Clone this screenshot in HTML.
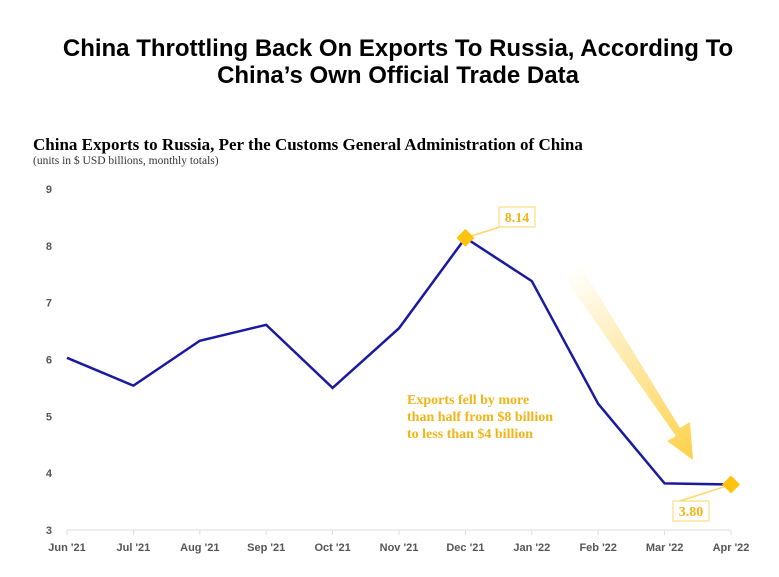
<!DOCTYPE html>
<html><head><meta charset="utf-8"><style>
body{margin:0;background:#fff;width:779px;height:577px;overflow:hidden}
svg{display:block}
</style></head><body>
<svg id="chart" width="779" height="577">
<defs>
<linearGradient id="ag" x1="570" y1="270" x2="693" y2="460" gradientUnits="userSpaceOnUse">
<stop offset="0" stop-color="#ffc20e" stop-opacity="0"/><stop offset="1" stop-color="#ffc20e" stop-opacity="0.75"/>
</linearGradient>
</defs>
<text x="398" y="56" text-anchor="middle" font-family="Liberation Sans, sans-serif" font-weight="bold" font-size="24">China Throttling Back On Exports To Russia, According To</text>
<text x="398" y="83" text-anchor="middle" font-family="Liberation Sans, sans-serif" font-weight="bold" font-size="24">China’s Own Official Trade Data</text>
<text x="33" y="150" font-family="Liberation Serif, serif" font-weight="bold" font-size="17">China Exports to Russia, Per the Customs General Administration of China</text>
<text x="33" y="164" font-family="Liberation Serif, serif" font-size="11.5" fill="#333">(units in $ USD billions, monthly totals)</text>
<g id="axes"></g>
<polygon points="563,276 580,265 680,428 690,422 693,460 667,441 676,436" fill="url(#ag)"/>
<text font-family="Liberation Serif, serif" font-weight="bold" font-size="14" fill="#f2b416"><tspan x="407" y="404">Exports fell by more</tspan><tspan x="407" y="421">than half from $8 billion</tspan><tspan x="407" y="438">to less than $4 billion</tspan></text>
<g id="plot"></g>
</svg>
<script>
const categories=["Jun '21","Jul '21","Aug '21","Sep '21","Oct '21","Nov '21","Dec '21","Jan '22","Feb '22","Mar '22","Apr '22"];
const values=[6.03,5.54,6.33,6.61,5.50,6.55,8.14,7.38,5.22,3.82,3.80];
const yTicks=[3,4,5,6,7,8,9];
const ns="http://www.w3.org/2000/svg";
const x0=67,x1=731,yTop=189,yBot=530,yMin=3,yMax=9;
const xs=i=>x0+(x1-x0)*i/(categories.length-1);
const ys=v=>yBot-(v-yMin)/(yMax-yMin)*(yBot-yTop);
function mk(t,a,p){const e=document.createElementNS(ns,t);for(const k in a)e.setAttribute(k,a[k]);p.appendChild(e);return e;}
const ax=document.getElementById('axes'),pl=document.getElementById('plot');
const base=mk('line',{x1:x0,x2:x1,y1:yBot,y2:yBot,stroke:'#ddd','stroke-width':1},ax);


yTicks.forEach(v=>{const t=mk('text',{x:52,y:ys(v)+4,'text-anchor':'end','font-family':'Liberation Sans, sans-serif','font-weight':'bold','font-size':11,fill:'#555'},ax);t.textContent=v;

});
categories.forEach((c,i)=>{const tk=mk('line',{x1:xs(i),x2:xs(i),y1:yBot,y2:yBot+5,stroke:'#ddd'},ax);


const t=mk('text',{x:xs(i),y:551,'text-anchor':'middle','font-family':'Liberation Sans, sans-serif','font-weight':'bold','font-size':11,fill:'#555'},ax);t.textContent=c;

});
const line=mk('polyline',{points:values.map((v,i)=>xs(i)+','+ys(v)).join(' '),fill:'none',stroke:'#1a1aa0','stroke-width':2.5,'stroke-linejoin':'miter'},pl);


function marker(i,lx,ly,name){const cx=xs(i),cy=ys(values[i]);
mk('line',{x1:cx,y1:cy,x2:lx+4,y2:ly+(ly<cy?19:1),stroke:'#ffd766','stroke-width':1.5},pl);
const d=mk('polygon',{points:`${cx},${cy-9} ${cx+9},${cy} ${cx},${cy+9} ${cx-9},${cy}`,fill:'#ffc20e'},pl);


const r=mk('rect',{x:lx,y:ly,width:36,height:20,fill:'#fff',stroke:'#ffd766','stroke-width':1},pl);


const t=mk('text',{x:lx+18,y:ly+15,'text-anchor':'middle','font-family':'Liberation Serif, serif','font-weight':'bold','font-size':14,fill:'#f2b416'},pl);t.textContent=values[i].toFixed(2);

}
marker(6,499,207,'peak');
marker(10,673,501,'latest');
</script>
</body></html>
